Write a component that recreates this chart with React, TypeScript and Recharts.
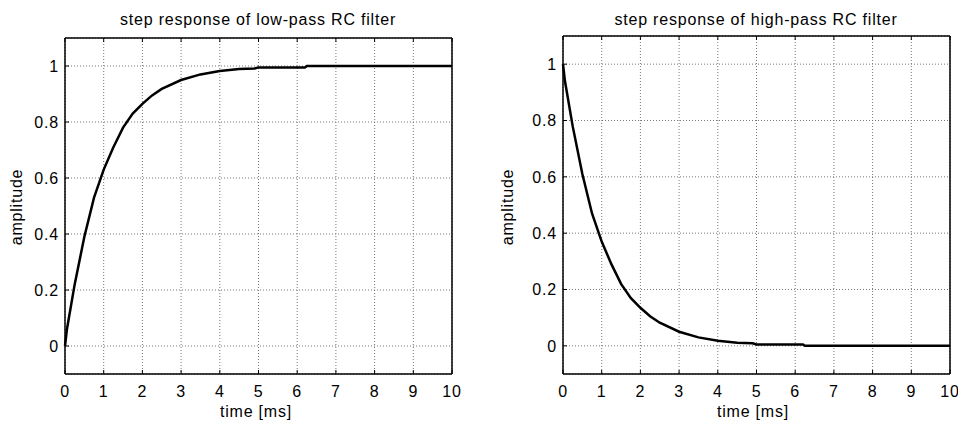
import React from "react";
import { LineChart, Line, XAxis, YAxis, CartesianGrid } from "recharts";

// time axis [ms] and amplitude values
const lowTime = [0, 0.05, 0.1, 0.25, 0.5, 0.75, 1, 1.25, 1.5, 1.75, 2, 2.25, 2.5, 3, 3.5, 4, 4.5, 4.9, 5, 6.2, 6.25, 10];
const lowAmp = [0, 0.06, 0.1, 0.22, 0.39, 0.53, 0.63, 0.71, 0.78, 0.83, 0.865, 0.895, 0.918, 0.95, 0.97, 0.982, 0.989, 0.991, 0.995, 0.995, 1, 1];

const highTime = [0, 0.05, 0.1, 0.25, 0.5, 0.75, 1, 1.25, 1.5, 1.75, 2, 2.25, 2.5, 3, 3.5, 4, 4.5, 4.9, 5, 6.2, 6.25, 10];
const highAmp = [1, 0.94, 0.9, 0.78, 0.61, 0.47, 0.37, 0.29, 0.22, 0.17, 0.135, 0.105, 0.082, 0.05, 0.03, 0.018, 0.011, 0.009, 0.005, 0.005, 0, 0];

const xTicks = [0, 1, 2, 3, 4, 5, 6, 7, 8, 9, 10];
const yTicks = [0, 0.2, 0.4, 0.6, 0.8, 1];

const FONT = "'Liberation Sans', Arial, sans-serif";
const textStyle: React.CSSProperties = {
  position: "absolute",
  fontFamily: FONT,
  fontSize: 16,
  letterSpacing: 0.8,
  lineHeight: "16px",
  color: "#000",
  whiteSpace: "nowrap",
};
const tickStyle = { fontSize: 16, fill: "#000", fontFamily: FONT, letterSpacing: 0.8 };

// space reserved by the axes themselves; margins below are the rest
const AXIS_W = 30;
const AXIS_H = 30;
const EDGE = 5;

interface PlotProps {
  left: number;
  title: string;
  time: number[];
  amp: number[];
  box: { top: number; right: number; bottom: number; left: number };
  titleX: number;
  xLabelX: number;
  yLabelX: number;
}

function StepPlot({ left, title, time, amp, box, titleX, xLabelX, yLabelX }: PlotProps) {
  const data = time.map((t, i) => ({ t, amp: amp[i] }));
  const margin = {
    top: box.top - EDGE,
    right: box.right - EDGE,
    bottom: box.bottom - AXIS_H,
    left: box.left - AXIS_W,
  };
  return (
    <div style={{ position: "absolute", left, top: 0, width: 479, height: 423 }}>
      <LineChart width={479} height={423} data={data} margin={margin}>
        <CartesianGrid stroke="#777" strokeDasharray="1 2" />
        <XAxis
          dataKey="t"
          type="number"
          domain={[0, 10]}
          ticks={xTicks}
          height={AXIS_H}
          tickSize={-4}
          tickMargin={16}
          tick={tickStyle}
          stroke="#000"
          axisLine={{ stroke: "#000", strokeWidth: 1.5 }}
          interval={0}
        />
        <XAxis
          xAxisId="top"
          orientation="top"
          dataKey="t"
          type="number"
          domain={[0, 10]}
          ticks={xTicks}
          height={EDGE}
          tickSize={-4}
          tickFormatter={() => ""}
          stroke="#000"
          axisLine={{ stroke: "#000", strokeWidth: 1.5 }}
          interval={0}
        />
        <YAxis
          type="number"
          domain={[-0.1, 1.1]}
          ticks={yTicks}
          width={AXIS_W}
          tickSize={-4}
          tickMargin={10}
          tick={tickStyle}
          stroke="#000"
          axisLine={{ stroke: "#000", strokeWidth: 1.5 }}
          interval={0}
        />
        <YAxis
          yAxisId="right"
          orientation="right"
          type="number"
          domain={[-0.1, 1.1]}
          ticks={yTicks}
          width={EDGE}
          tickSize={-4}
          tickFormatter={() => ""}
          stroke="#000"
          axisLine={{ stroke: "#000", strokeWidth: 1.5 }}
          interval={0}
        />
        <Line
          type="linear"
          dataKey="amp"
          stroke="#000"
          strokeWidth={2.5}
          dot={false}
          isAnimationActive={false}
        />
      </LineChart>
      <div style={{ ...textStyle, top: 12, left: titleX, transform: "translateX(-50%)" }}>{title}</div>
      <div style={{ ...textStyle, top: 404, left: xLabelX, transform: "translateX(-50%)" }}>time [ms]</div>
      <div
        style={{
          ...textStyle,
          top: 199,
          left: yLabelX,
          transform: "translateX(-50%) rotate(-90deg)",
        }}
      >
        amplitude
      </div>
    </div>
  );
}

export default function App() {
  return (
    <div style={{ position: "absolute", left: 0, top: 0, width: 958, height: 423, background: "#fff" }}>
      <StepPlot
        left={0}
        title="step response of low-pass RC filter"
        time={lowTime}
        amp={lowAmp}
        box={{ top: 38, right: 27, bottom: 49, left: 65 }}
        titleX={258}
        xLabelX={256}
        yLabelX={17}
      />
      <StepPlot
        left={479}
        title="step response of high-pass RC filter"
        time={highTime}
        amp={highAmp}
        box={{ top: 36, right: 8, bottom: 49, left: 84 }}
        titleX={277}
        xLabelX={274}
        yLabelX={29}
      />
    </div>
  );
}
